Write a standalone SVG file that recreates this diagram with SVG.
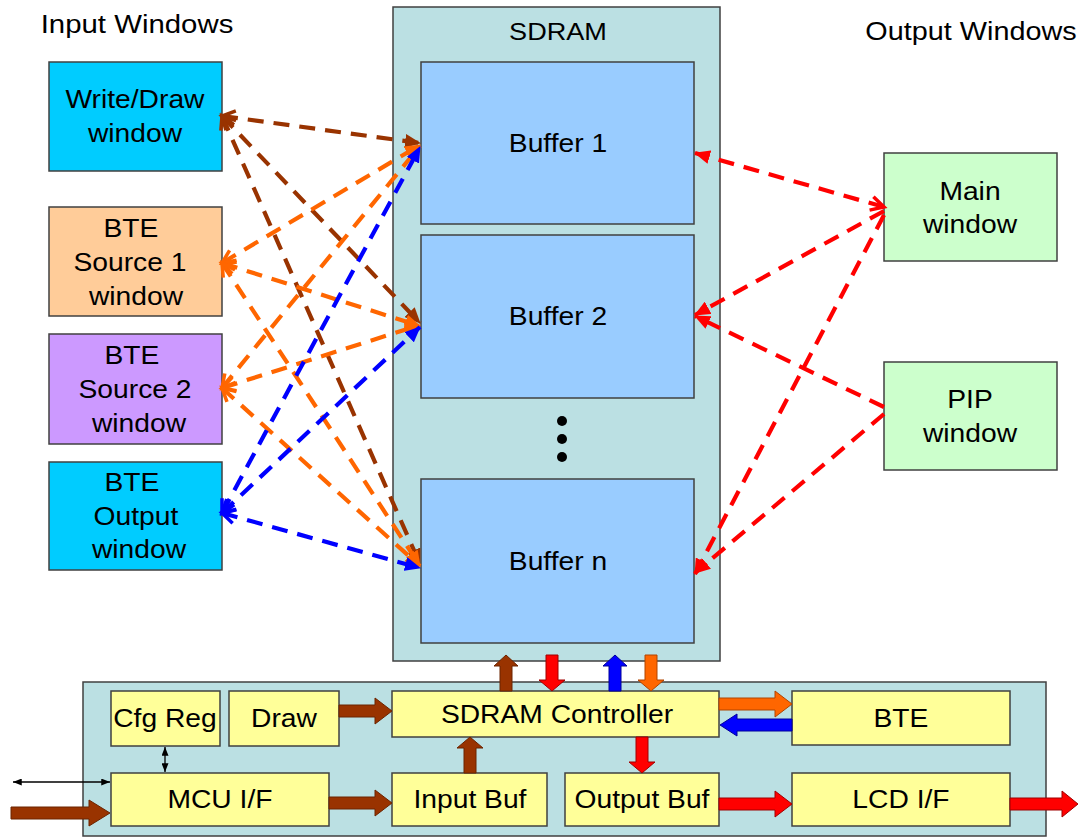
<svg xmlns="http://www.w3.org/2000/svg" width="1078" height="837" viewBox="0 0 1078 837">
<style>
text{font-family:"Liberation Sans",Arial,sans-serif;fill:#000;text-anchor:middle;transform-box:fill-box;transform-origin:center;transform:scaleX(1.13)}
.t{font-size:25px}
.h{font-size:26px}
.box{stroke:#404040;stroke-width:1.5}
.cont{fill:#BBE0E3}
.buf{fill:#99CCFF}
.cy{fill:#00CCFF}
.or{fill:#FFCC99}
.pu{fill:#CC99FF}
.gr{fill:#CCFFCC}
.ye{fill:#FFFF99}
.d{fill:none;stroke-width:4.2;stroke-dasharray:16 10}
.dbr{stroke:#993300}
.dor{stroke:#FF6600}
.dbl{stroke:#0000FF}
.drd{stroke:#FF0000}
.ba{stroke-width:1;stroke-linejoin:miter}
.bbr{fill:#993300;stroke:#6b2400}
.brd{fill:#FF0000;stroke:#a00000}
.bbl{fill:#0000FF;stroke:#00009a}
.bor{fill:#FF6600;stroke:#b04400}
</style>
<defs>
<marker id="tbr" viewBox="0 0 16 14" refX="15" refY="7" markerWidth="16" markerHeight="14" markerUnits="userSpaceOnUse" orient="auto"><path d="M0,0 L16,7 L0,14 z" fill="#993300"/></marker>
<marker id="tor" viewBox="0 0 16 14" refX="15" refY="7" markerWidth="16" markerHeight="14" markerUnits="userSpaceOnUse" orient="auto"><path d="M0,0 L16,7 L0,14 z" fill="#FF6600"/></marker>
<marker id="tbl" viewBox="0 0 16 14" refX="15" refY="7" markerWidth="16" markerHeight="14" markerUnits="userSpaceOnUse" orient="auto"><path d="M0,0 L16,7 L0,14 z" fill="#0000FF"/></marker>
<marker id="trd" viewBox="0 0 16 14" refX="15" refY="7" markerWidth="16" markerHeight="14" markerUnits="userSpaceOnUse" orient="auto"><path d="M0,0 L16,7 L0,14 z" fill="#FF0000"/></marker>
<marker id="cbr" viewBox="-3 -3 20 20" refX="13" refY="7" markerWidth="20" markerHeight="20" markerUnits="userSpaceOnUse" orient="auto-start-reverse"><path d="M0,0 L13,7 L0,14" fill="none" stroke="#993300" stroke-width="3.5"/></marker>
<marker id="cor" viewBox="-3 -3 20 20" refX="13" refY="7" markerWidth="20" markerHeight="20" markerUnits="userSpaceOnUse" orient="auto-start-reverse"><path d="M0,0 L13,7 L0,14" fill="none" stroke="#FF6600" stroke-width="3.5"/></marker>
<marker id="cbl" viewBox="-3 -3 20 20" refX="13" refY="7" markerWidth="20" markerHeight="20" markerUnits="userSpaceOnUse" orient="auto-start-reverse"><path d="M0,0 L13,7 L0,14" fill="none" stroke="#0000FF" stroke-width="3.5"/></marker>
<marker id="crd" viewBox="-3 -3 20 20" refX="13" refY="7" markerWidth="20" markerHeight="20" markerUnits="userSpaceOnUse" orient="auto-start-reverse"><path d="M0,0 L13,7 L0,14" fill="none" stroke="#FF0000" stroke-width="3.5"/></marker>
<marker id="thin" viewBox="0 0 10 8" refX="10" refY="4" markerWidth="9" markerHeight="7" markerUnits="userSpaceOnUse" orient="auto-start-reverse"><path d="M0,0 L10,4 L0,8 z" fill="#000"/></marker>
</defs>
<rect width="1078" height="837" fill="#FFFFFF"/>

<text class="h" x="137" y="33">Input Windows</text>
<text class="h" x="971" y="40" style="font-size:25.5px">Output Windows</text>

<g id="sdram">
<rect class="box cont" x="393" y="7" width="327" height="654"/>
<text class="t" x="558" y="40" style="font-size:24px">SDRAM</text>
</g>
<g id="buffer1"><rect class="box buf" x="421" y="62" width="273" height="162"/><text class="t" x="558" y="152">Buffer 1</text></g>
<g id="buffer2"><rect class="box buf" x="421" y="235" width="273" height="163"/><text class="t" x="558" y="325">Buffer 2</text></g>
<g id="dots"><circle cx="562" cy="421" r="5"/><circle cx="562" cy="439" r="5"/><circle cx="562" cy="457" r="5"/></g>
<g id="buffern"><rect class="box buf" x="421" y="479" width="273" height="164"/><text class="t" x="558" y="570">Buffer n</text></g>

<g id="writedraw"><rect class="box cy" x="49" y="62" width="173" height="109"/><text class="t" x="135" y="108">Write/Draw</text><text class="t" x="135" y="142">window</text></g>
<g id="src1"><rect class="box or" x="49" y="207" width="173" height="109"/><text class="t" x="131" y="237">BTE</text><text class="t" x="130" y="271">Source 1</text><text class="t" x="136" y="305">window</text></g>
<g id="src2"><rect class="box pu" x="49" y="334" width="173" height="110"/><text class="t" x="132" y="364">BTE</text><text class="t" x="135" y="398">Source 2</text><text class="t" x="139" y="432">window</text></g>
<g id="bteout"><rect class="box cy" x="49" y="462" width="173" height="108"/><text class="t" x="132" y="491">BTE</text><text class="t" x="136" y="525">Output</text><text class="t" x="139" y="558">window</text></g>

<g id="mainwin"><rect class="box gr" x="884" y="153" width="173" height="108"/><text class="t" x="970" y="200">Main</text><text class="t" x="970" y="233">window</text></g>
<g id="pipwin"><rect class="box gr" x="884" y="362" width="173" height="108"/><text class="t" x="970" y="408">PIP</text><text class="t" x="970" y="442">window</text></g>

<g id="panel"><rect class="box cont" x="83" y="682" width="963" height="154"/></g>
<g id="cfgreg"><rect class="box ye" x="111" y="691" width="109" height="55"/><text class="t" x="165" y="727">Cfg Reg</text></g>
<g id="draw"><rect class="box ye" x="229" y="691" width="110" height="55"/><text class="t" x="284" y="727">Draw</text></g>
<g id="sdramctrl"><rect class="box ye" x="392" y="691" width="327" height="46"/><text class="t" x="557" y="723">SDRAM Controller</text></g>
<g id="bte"><rect class="box ye" x="792" y="691" width="218" height="54"/><text class="t" x="901" y="727">BTE</text></g>
<g id="mcuif"><rect class="box ye" x="111" y="773" width="218" height="53"/><text class="t" x="220" y="808">MCU I/F</text></g>
<g id="inputbuf"><rect class="box ye" x="392" y="773" width="155" height="53"/><text class="t" x="470" y="808">Input Buf</text></g>
<g id="outputbuf"><rect class="box ye" x="565" y="773" width="154" height="53"/><text class="t" x="642" y="808">Output Buf</text></g>
<g id="lcdif"><rect class="box ye" x="792" y="773" width="218" height="53"/><text class="t" x="901" y="808">LCD I/F</text></g>

<g id="connectors">
<path class="d dbr" d="M222,116 L420,143" marker-start="url(#cbr)" marker-end="url(#tbr)"/>
<path class="d dbr" d="M222,116 L420,323" marker-start="url(#cbr)" marker-end="url(#tbr)"/>
<path class="d dbr" d="M222,116 L420,564" marker-start="url(#cbr)" marker-end="url(#tbr)"/>
<path class="d dor" d="M222,263 L420,145" marker-start="url(#cor)" marker-end="url(#tor)"/>
<path class="d dor" d="M222,263 L420,326" marker-start="url(#cor)" marker-end="url(#tor)"/>
<path class="d dor" d="M222,263 L420,566" marker-start="url(#cor)" marker-end="url(#tor)"/>
<path class="d dor" d="M222,388 L420,146" marker-start="url(#cor)" marker-end="url(#tor)"/>
<path class="d dor" d="M222,388 L420,325" marker-start="url(#cor)" marker-end="url(#tor)"/>
<path class="d dor" d="M222,388 L420,566" marker-start="url(#cor)" marker-end="url(#tor)"/>
<path class="d dbl" d="M222,513 L420,147" marker-start="url(#cbl)" marker-end="url(#tbl)"/>
<path class="d dbl" d="M222,513 L420,327" marker-start="url(#cbl)" marker-end="url(#tbl)"/>
<path class="d dbl" d="M222,513 L420,568" marker-start="url(#cbl)" marker-end="url(#tbl)"/>
<path class="d drd" d="M884,207 L695,153" marker-start="url(#crd)" marker-end="url(#trd)"/>
<path class="d drd" d="M884,211 L695,315" marker-end="url(#trd)"/>
<path class="d drd" d="M884,215 L695,574" marker-end="url(#trd)"/>
<path class="d drd" d="M884,407 L695,316" marker-end="url(#trd)"/>
<path class="d drd" d="M884,414 L695,573" marker-end="url(#trd)"/>

<polygon class="ba bbr" points="500,691 500,666 494,666 506,655 518,666 512,666 512,691"/>
<polygon class="ba brd" points="546,655 546,680 539,680 552,691 565,680 558,680 558,655"/>
<polygon class="ba bbl" points="609,691 609,666 603,666 615,655 627,666 621,666 621,691"/>
<polygon class="ba bor" points="645,655 645,680 638,680 651,691 664,680 657,680 657,655"/>
<polygon class="ba bbr" points="339,705 375,705 375,698 392,711 375,724 375,717 339,717"/>
<polygon class="ba bbr" points="464,773 464,748 457,748 470,737 483,748 476,748 476,773"/>
<polygon class="ba brd" points="636,737 636,762 629,762 642,773 655,762 648,762 648,737"/>
<polygon class="ba bor" points="719,698 775,698 775,691 792,704 775,717 775,710 719,710"/>
<polygon class="ba bbl" points="792,719 737,719 737,714 720,725 737,736 737,731 792,731"/>
<polygon class="ba bbr" points="329,797 375,797 375,790 392,803 375,816 375,809 329,809"/>
<polygon class="ba brd" points="719,798 775,798 775,791 792,804 775,817 775,810 719,810"/>
<polygon class="ba brd" points="1010,798 1062,798 1062,791 1078,804 1062,817 1062,810 1010,810"/>
<polygon class="ba bbr" points="11,807 89,807 89,800 110,813 89,826 89,819 11,819"/>
<line x1="13" y1="782" x2="110" y2="782" stroke="#000" stroke-width="1.3" marker-start="url(#thin)" marker-end="url(#thin)"/>
<line x1="165" y1="747" x2="165" y2="772" stroke="#000" stroke-width="1.3" marker-start="url(#thin)" marker-end="url(#thin)"/>
</g>
</svg>
